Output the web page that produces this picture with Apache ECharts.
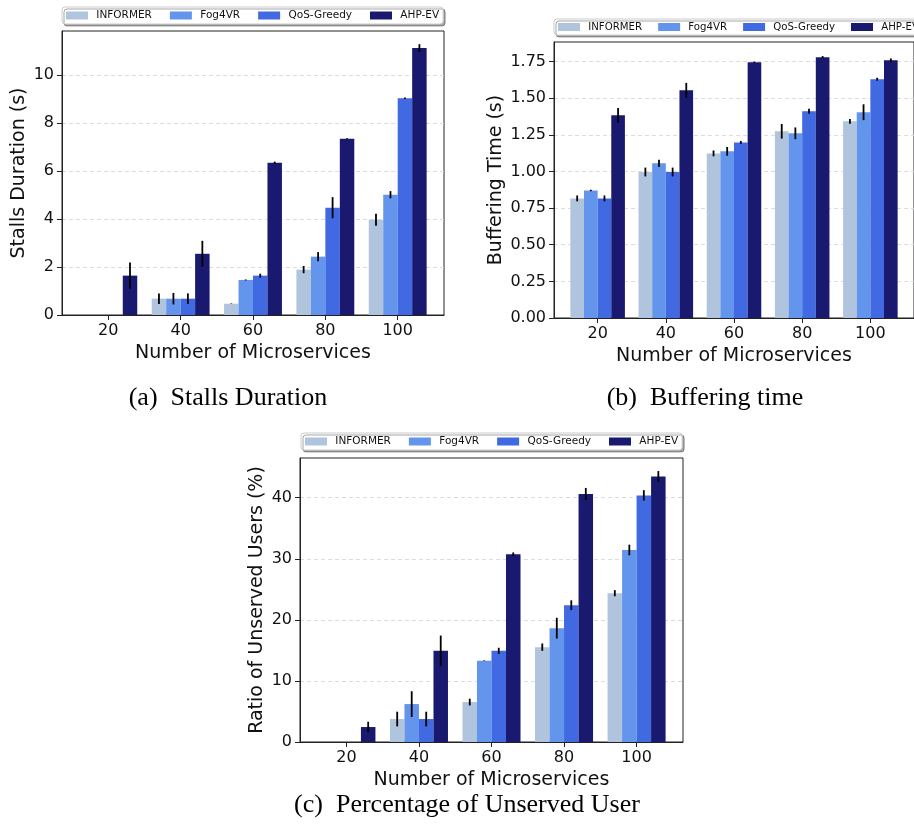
<!DOCTYPE html>
<html>
<head>
<meta charset="utf-8">
<script src="https://cdn.jsdelivr.net/npm/echarts@6/dist/echarts.min.js"></script>
<style>
html,body{margin:0;padding:0;background:#fff;}
#chart{width:914px;height:836px;}
</style>
</head>
<body>
<div id="chart"></div>
<script>
// ---------------- data ----------------
const categories = [20, 40, 60, 80, 100];
const seriesNames = ['INFORMER', 'Fog4VR', 'QoS-Greedy', 'AHP-EV'];

// (a) Stalls Duration (s)
const stallsINFORMER  = [0, 0.68, 0.47, 1.89, 3.97];
const stallsFog4VR    = [0, 0.68, 1.46, 2.43, 5.01];
const stallsQoSGreedy = [0, 0.68, 1.64, 4.47, 9.03];
const stallsAHPEV     = [1.64, 2.55, 6.34, 7.34, 11.12];
const stallsErrINFORMER  = [0, 0.22, 0.01, 0.15, 0.25];
const stallsErrFog4VR    = [0, 0.24, 0.02, 0.19, 0.15];
const stallsErrQoSGreedy = [0, 0.22, 0.08, 0.44, 0.03];
const stallsErrAHPEV     = [0.55, 0.54, 0.05, 0.02, 0.16];

// (b) Buffering Time (s)
const bufINFORMER  = [0.816, 0.996, 1.123, 1.274, 1.342];
const bufFog4VR    = [0.870, 1.055, 1.137, 1.260, 1.404];
const bufQoSGreedy = [0.816, 0.996, 1.198, 1.410, 1.629];
const bufAHPEV     = [1.383, 1.554, 1.745, 1.779, 1.759];
const bufErrINFORMER  = [0.02, 0.03, 0.02, 0.05, 0.016];
const bufErrFog4VR    = [0.005, 0.025, 0.03, 0.04, 0.054];
const bufErrQoSGreedy = [0.02, 0.03, 0.01, 0.017, 0.01];
const bufErrAHPEV     = [0.05, 0.05, 0.005, 0.008, 0.012];

// (c) Ratio of Unserved Users (%)
const unsINFORMER  = [0, 3.76, 6.54, 15.53, 24.36];
const unsFog4VR    = [0, 6.21, 13.30, 18.64, 31.44];
const unsQoSGreedy = [0, 3.76, 14.93, 22.40, 40.38];
const unsAHPEV     = [2.45, 14.93, 30.74, 40.60, 43.49];
const unsErrINFORMER  = [0, 1.2, 0.55, 0.6, 0.5];
const unsErrFog4VR    = [0, 2.1, 0.05, 1.7, 0.87];
const unsErrQoSGreedy = [0, 1.2, 0.5, 0.8, 0.85];
const unsErrAHPEV     = [0.87, 2.5, 0.3, 1.0, 0.87];

const yTicksA = [0, 2, 4, 6, 8, 10];
const yTicksB = [0, 0.25, 0.5, 0.75, 1.0, 1.25, 1.5, 1.75];
const yTicksC = [0, 10, 20, 30, 40];

// ---------------- styling ----------------
const colors = ['#B0C4DE', '#6495ED', '#4169E1', '#191970'];
const offsets = [-6, -2, 2, 6];   // bar centre offsets in axis units (category step = 20)
const halfW = 2;                  // half bar width in axis units
const SANS = '"DejaVu Sans", sans-serif';

const panels = [
  { means: [stallsINFORMER, stallsFog4VR, stallsQoSGreedy, stallsAHPEV],
    errs:  [stallsErrINFORMER, stallsErrFog4VR, stallsErrQoSGreedy, stallsErrAHPEV],
    ticks: yTicksA, ymax: 11.83, ytitle: 'Stalls Duration (s)', dec: 0,
    grid: {left: 62, top: 31, width: 382, height: 284}, nameGap: 33,
    legend: {left: 62, top: 7, gap: 18, font: 10.5} },
  { means: [bufINFORMER, bufFog4VR, bufQoSGreedy, bufAHPEV],
    errs:  [bufErrINFORMER, bufErrFog4VR, bufErrQoSGreedy, bufErrAHPEV],
    ticks: yTicksB, ymax: 1.883, ytitle: 'Buffering Time (s)', dec: 2,
    grid: {left: 554, top: 42, width: 370, height: 276}, nameGap: 48,
    legend: {left: 554, top: 19, gap: 16, font: 10.2} },
  { means: [unsINFORMER, unsFog4VR, unsQoSGreedy, unsAHPEV],
    errs:  [unsErrINFORMER, unsErrFog4VR, unsErrQoSGreedy, unsErrAHPEV],
    ticks: yTicksC, ymax: 46.5, ytitle: 'Ratio of Unserved Users (%)', dec: 0,
    grid: {left: 300, top: 458, width: 383, height: 284}, nameGap: 33,
    legend: {left: 301, top: 433, gap: 18, font: 10.5} }
];

const grid = [], xAxis = [], yAxis = [], series = [], legend = [];

panels.forEach((p, gi) => {
  grid.push(Object.assign({show: true, borderColor: '#222', borderWidth: 1, backgroundColor: 'transparent'}, p.grid));
  xAxis.push({
    type: 'value', gridIndex: gi, min: 7.2, max: 112.8,
    name: 'Number of Microservices', nameLocation: 'middle', nameGap: 29,
    nameTextStyle: {fontFamily: SANS, fontSize: 19, color: '#111'},
    axisLine: {show: true, lineStyle: {color: '#222', width: 1}},
    axisTick: {show: true, length: 5, customValues: categories, lineStyle: {color: '#222'}},
    axisLabel: {customValues: categories, fontFamily: SANS, fontSize: 16, color: '#111', margin: 8},
    splitLine: {show: false}
  });
  yAxis.push({
    type: 'value', gridIndex: gi, min: 0, max: p.ymax,
    name: p.ytitle, nameLocation: 'middle', nameGap: p.nameGap,
    nameTextStyle: {fontFamily: SANS, fontSize: 19, color: '#111'},
    axisLine: {show: true, lineStyle: {color: '#222', width: 1}},
    axisTick: {show: true, length: 5, customValues: p.ticks, lineStyle: {color: '#222'}},
    axisLabel: {customValues: p.ticks, fontFamily: SANS, fontSize: 16, color: '#111', margin: 8,
      formatter: v => Number(v).toFixed(p.dec)},
    splitLine: {show: true, customValues: p.ticks, lineStyle: {color: '#dcdcdc', type: [4, 3], width: 1}}
  });
  seriesNames.forEach((name, si) => {
    const off = offsets[si];
    series.push({
      type: 'custom', name: name, xAxisIndex: gi, yAxisIndex: gi,
      itemStyle: {color: colors[si]},
      encode: {x: 0, y: 1},
      data: categories.map((c, i) => [c, p.means[si][i]]),
      renderItem: (params, api) => {
        const x = api.value(0) + off, v = api.value(1);
        const a = api.coord([x - halfW, v]);
        const b = api.coord([x + halfW, 0]);
        return {type: 'rect', shape: {x: a[0], y: a[1], width: b[0] - a[0], height: b[1] - a[1]},
                style: {fill: colors[si]}};
      },
      silent: true, z: 2
    });
  });
  seriesNames.forEach((name, si) => {
    const off = offsets[si];
    series.push({
      type: 'custom', name: 'err_' + gi + '_' + si, xAxisIndex: gi, yAxisIndex: gi,
      encode: {x: 0, y: 1},
      data: categories.map((c, i) => [c, p.means[si][i], p.errs[si][i]]),
      renderItem: (params, api) => {
        const x = api.value(0) + off, v = api.value(1), e = api.value(2);
        if (!(e > 0)) return null;
        const a = api.coord([x, v - e]);
        const b = api.coord([x, v + e]);
        return {type: 'line', shape: {x1: a[0], y1: a[1], x2: b[0], y2: b[1]},
                style: {stroke: '#000', lineWidth: 1.8}};
      },
      silent: true, z: 3
    });
  });
  legend.push({
    data: seriesNames, left: p.legend.left, top: p.legend.top, width: 600, orient: 'horizontal',
    icon: 'rect', itemWidth: 22, itemHeight: 8, itemGap: p.legend.gap,
    formatter: n => ' ' + n,
    textStyle: {fontFamily: SANS, fontSize: p.legend.font, color: '#111'},
    padding: [3, 4, 3, 4],
    backgroundColor: '#fff', borderColor: '#ccc', borderWidth: 1, borderRadius: 3,
    shadowColor: 'rgba(0,0,0,0.35)', shadowBlur: 0, shadowOffsetX: 2, shadowOffsetY: 2,
    selectedMode: false
  });
});

const captionFont = '26px "Liberation Serif", "Times New Roman", serif';
const graphic = [
  {type: 'text', x: 228, y: 398, style: {text: '(a)  Stalls Duration', font: captionFont, fill: '#000', textAlign: 'center', textVerticalAlign: 'middle'}},
  {type: 'text', x: 705, y: 398, style: {text: '(b)  Buffering time', font: captionFont, fill: '#000', textAlign: 'center', textVerticalAlign: 'middle'}},
  {type: 'text', x: 467, y: 805, style: {text: '(c)  Percentage of Unserved User', font: captionFont, fill: '#000', textAlign: 'center', textVerticalAlign: 'middle'}}
];

const chart = echarts.init(document.getElementById('chart'), null, {renderer: 'canvas'});
chart.setOption({
  animation: false,
  backgroundColor: '#fff',
  grid, xAxis, yAxis, series, legend, graphic
});
</script>
</body>
</html>
